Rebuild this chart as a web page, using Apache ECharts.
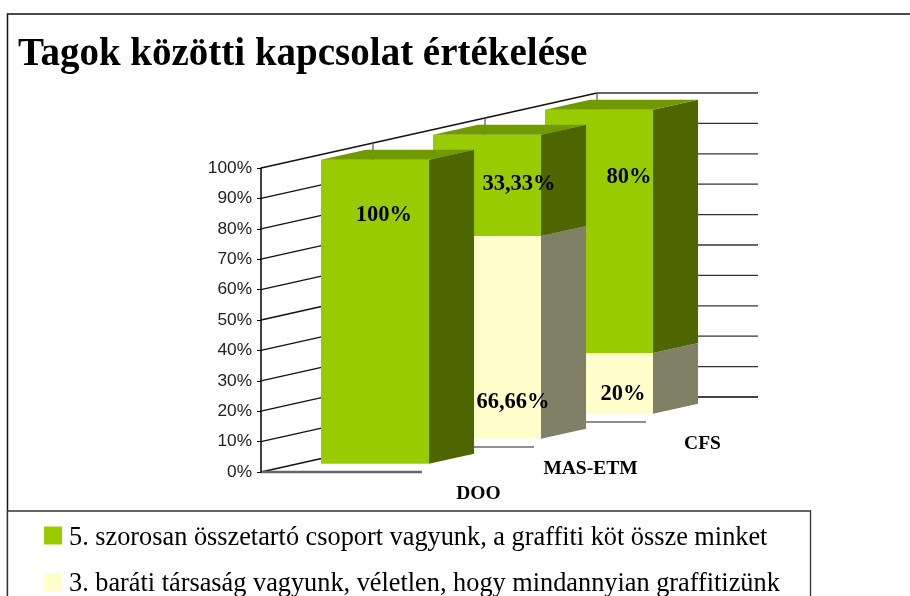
<!DOCTYPE html>
<html>
<head>
<meta charset="utf-8">
<title>Tagok közötti kapcsolat értékelése</title>
<script src="https://cdn.jsdelivr.net/npm/echarts@6/dist/echarts.min.js"></script>
<style>
  html, body { margin: 0; padding: 0; background: #fff; }
  #chart { width: 910px; height: 596px; }
</style>
</head>
<body>
<div id="chart"></div>
<script>
var titleText = 'Tagok közötti kapcsolat értékelése';
var categories = ['DOO', 'MAS-ETM', 'CFS'];
var seriesNames = [
  '5. szorosan összetartó csoport vagyunk, a graffiti köt össze minket',
  '3. baráti társaság vagyunk, véletlen, hogy mindannyian graffitizünk'
];
var closeValues = [100, 33.33, 80];
var friendlyValues = [0, 66.66, 20];
var closeLabels = ['100%', '33,33%', '80%'];
var friendlyLabels = ['', '66,66%', '20%'];
var yTicks = [0, 10, 20, 30, 40, 50, 60, 70, 80, 90, 100];

// fake 3d: a point on the value grid is pushed up and right by its depth (0..1)
var depthX = 336, depthY = -75;
var barFrom = 0.143, barTo = 0.814, barDepth = 0.134, firstDepth = 0.11;
var rowDepth = 1 / 3;

// excel put the data labels off centre, px from the middle of the segment
var closeNudge = [[9, -97], [32, -1], [30, -54]];
var friendlyNudge = [[0, 0], [26, 65], [24, 11]];

var colors = {
  close: { front: '#99cc00', top: '#739900', side: '#4d6600' },
  friendly: { front: '#ffffcc', top: '#bfbf99', side: '#808066' }
};

function project(api, x, y, z) {
  var p = api.coord([x, y]);
  return [p[0] + z * depthX, p[1] + z * depthY];
}

function poly(points, fill, z2) {
  return { type: 'polygon', z2: z2, shape: { points: points }, style: { fill: fill }, silent: true };
}

function segment(shade, labels, nudge) {
  return function (params, api) {
    var i = api.value(0), from = api.value(1), to = api.value(2);
    if (to <= from) return { type: 'group', children: [] };
    var z0 = firstDepth + i * rowDepth, z1 = z0 + barDepth;
    var z2 = 10 + (categories.length - i) * 10;
    var a = project(api, barFrom, from, z0), b = project(api, barTo, from, z0);
    var c = project(api, barTo, to, z0), d = project(api, barFrom, to, z0);
    var e = project(api, barTo, from, z1), f = project(api, barTo, to, z1);
    var g = project(api, barFrom, to, z1);
    return {
      type: 'group',
      children: [
        poly([a, b, c, d], shade.front, z2),
        poly([b, e, f, c], shade.side, z2),
        poly([d, c, f, g], shade.top, z2),
        {
          type: 'text',
          z2: 100,
          silent: true,
          style: {
            x: (a[0] + b[0]) / 2 + nudge[i][0],
            y: (a[1] + d[1]) / 2 + nudge[i][1],
            text: labels[i],
            align: 'center',
            verticalAlign: 'middle',
            font: 'bold 22.5px "Liberation Serif"',
            fill: '#000'
          }
        }
      ]
    };
  };
}

function line(p, q, color, width) {
  return {
    type: 'line',
    silent: true,
    shape: { x1: p[0], y1: p[1], x2: q[0], y2: q[1] },
    style: { stroke: color, lineWidth: width }
  };
}

function wallLines(params, api) {
  var v = api.value(0);
  return {
    type: 'group',
    children: [
      line(project(api, 0, v, 0), project(api, 0, v, 1), '#111', 1.3),
      line(project(api, 0, v, 1), project(api, 1, v, 1), '#333', 1.3)
    ]
  };
}

function floorLines(params, api) {
  var z = api.value(0);
  var kids = [line(project(api, 0, 0, z), project(api, 1, 0, z), z === 0 ? '#666' : '#222', z === 0 ? 2.4 : 1.2)];
  if (z > 0) kids.push(line(project(api, 0, 0, z), project(api, 0, 100, z), '#555', 1.2));
  return { type: 'group', children: kids };
}

function categoryText(params, api) {
  var i = api.value(0);
  var p = project(api, 0.5, 0, i * rowDepth);
  return {
    type: 'text',
    silent: true,
    style: {
      x: p[0] + 137,
      y: p[1] + 22,
      text: categories[i],
      align: 'center',
      verticalAlign: 'middle',
      font: 'bold 19.5px "Liberation Serif"',
      fill: '#000'
    }
  };
}

var myChart = echarts.init(document.getElementById('chart'), null, { renderer: 'canvas' });

var closeData = [], friendlyData = [];
categories.forEach(function (c, i) {
  var sum = closeValues[i] + friendlyValues[i];
  friendlyData.push([i, 0, friendlyValues[i] / sum * 100]);
  closeData.push([i, friendlyValues[i] / sum * 100, 100]);
});

var option = {
  animation: false,
  backgroundColor: '#fff',
  title: {
    text: titleText,
    left: 18,
    top: 35,
    padding: 0,
    textStyle: { fontFamily: 'Liberation Serif', fontWeight: 'bold', fontSize: 39, color: '#000' }
  },
  legend: {
    data: seriesNames,
    icon: 'rect',
    orient: 'vertical',
    left: 44,
    top: 525,
    height: 100,
    padding: 0,
    itemWidth: 18,
    itemHeight: 18,
    itemGap: 20.5,
    selectedMode: false,
    formatter: function (name) { return '{t|' + name + '}'; },
    textStyle: {
      rich: {
        t: { fontFamily: 'Liberation Serif', fontSize: 26.3, color: '#000', padding: [5, 0, 0, 2] }
      }
    }
  },
  grid: { left: 261, right: 488, top: 168, bottom: 124 },
  xAxis: { type: 'value', min: 0, max: 1, show: false },
  yAxis: {
    type: 'value',
    min: 0,
    max: 100,
    interval: 10,
    z: 5,
    axisLine: { show: true, lineStyle: { color: '#000', width: 1.5 } },
    axisTick: { show: true, length: 4, lineStyle: { color: '#000', width: 1 } },
    splitLine: { show: false },
    axisLabel: {
      formatter: '{value}%',
      margin: 9,
      fontFamily: 'Liberation Sans',
      fontSize: 17.3,
      color: '#222'
    }
  },
  graphic: [
    { type: 'rect', silent: true, z: -1, shape: { x: 7.5, y: 14, width: 910, height: 600 }, style: { fill: 'none', stroke: '#111', lineWidth: 1.5 } },
    { type: 'rect', silent: true, z: -1, shape: { x: 7.5, y: 511, width: 803, height: 100 }, style: { fill: '#fff', stroke: '#333', lineWidth: 1.3 } }
  ],
  series: [
    { type: 'custom', name: 'fal', z: 1, data: yTicks.map(function (v) { return [v]; }), renderItem: wallLines, encode: { x: -1, y: 0 } },
    { type: 'custom', name: 'padlo', z: 1, data: [[0], [rowDepth], [2 * rowDepth], [1]], renderItem: floorLines, encode: { x: -1, y: -1 } },
    { type: 'custom', name: seriesNames[1], z: 2, itemStyle: { color: colors.friendly.front }, data: friendlyData, renderItem: segment(colors.friendly, friendlyLabels, friendlyNudge) },
    { type: 'custom', name: seriesNames[0], z: 2, itemStyle: { color: colors.close.front }, data: closeData, renderItem: segment(colors.close, closeLabels, closeNudge) },
    { type: 'custom', name: 'kategoriak', z: 3, data: categories.map(function (c, i) { return [i]; }), renderItem: categoryText, encode: { x: -1, y: -1 } }
  ]
};
myChart.setOption(option);
</script>
</body>
</html>
